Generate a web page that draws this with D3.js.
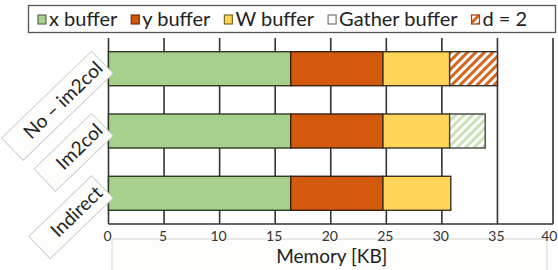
<!DOCTYPE html>
<html><head><meta charset="utf-8">
<script src="https://cdn.jsdelivr.net/npm/d3@7"></script>
<style>body{margin:0;background:#fff}svg{display:block}</style>
</head><body><svg id="c" width="558" height="270"></svg>
<script>
const categories = ["No \u2013 im2col", "Im2col", "Indirect"];
const xBuffer = [16.4, 16.4, 16.4];
const yBuffer = [8.3, 8.3, 8.3];
const wBuffer = [6.0, 6.0, 6.1];
const gatherBuffer = [0, 3.2, 0];
const d2Buffer = [4.3, 0, 0];
const ticks = [0, 5, 10, 15, 20, 25, 30, 35, 40];
const legendLabels = ["x buffer", "y buffer", "W buffer", "Gather buffer", "d = 2"];
const axisTitle = "Memory [KB]";

const svg = d3.select("#c");
const font = "Lato, 'Open Sans', sans-serif";
const defs = svg.append("defs");
function hatch(id, c1, c2) {
  const p = defs.append("pattern").attr("id", id).attr("patternUnits", "userSpaceOnUse")
    .attr("width", 6).attr("height", 6).attr("patternTransform", "rotate(45)");
  p.append("rect").attr("width", 6).attr("height", 6).attr("fill", c2);
  p.append("rect").attr("width", 3).attr("height", 6).attr("fill", c1);
}
hatch("hOrange", "#d8651c", "#ffffff");
hatch("hGreen", "#c9e3b8", "#ffffff");

const series = [
  {key: legendLabels[0], vals: xBuffer, fill: "#a7d08c", stroke: "#2d3a26"},
  {key: legendLabels[1], vals: yBuffer, fill: "#d35a0c", stroke: "#3a2010"},
  {key: legendLabels[2], vals: wBuffer, fill: "#fed558", stroke: "#3a3420"},
  {key: legendLabels[3], vals: gatherBuffer, fill: "url(#hGreen)", stroke: "#444"},
  {key: legendLabels[4], vals: d2Buffer, fill: "url(#hOrange)", stroke: "#333"}
];

const x = d3.scaleLinear().domain([0, 40]).range([108.5, 553]);
const y = d3.scaleBand().domain(categories).range([38, 224]).paddingInner(0.454).paddingOuter(0.22);

// axis title box
svg.append("rect").attr("x", 112).attr("y", 239).attr("width", 435).attr("height", 34)
  .attr("fill", "#fdfdfb").attr("stroke", "#d4d4d4").attr("stroke-width", 1);
svg.append("text").attr("x", (x(0) + x(40)) / 2 + 1).attr("y", 263).attr("text-anchor", "middle")
  .attr("font-family", font).attr("font-size", 19).attr("fill", "#222").text(axisTitle);

// grid lines
svg.append("g").selectAll("line").data(ticks).join("line")
  .attr("x1", d => x(d)).attr("x2", d => x(d)).attr("y1", 38).attr("y2", 224)
  .attr("stroke", "#333").attr("stroke-width", 1.6);
// bottom axis line
svg.append("line").attr("x1", x(0)).attr("x2", x(40)).attr("y1", 224).attr("y2", 224)
  .attr("stroke", "#333").attr("stroke-width", 1.6);

// tick labels
const last = ticks[ticks.length - 1];
svg.append("g").selectAll("text").data(ticks).join("text")
  .attr("x", d => d === last ? 557.5 : x(d) - 1).attr("y", 241)
  .attr("text-anchor", d => d === last ? "end" : "middle")
  .attr("font-family", font).attr("font-size", 14).attr("fill", "#333").text(d => d);

// bars
const bars = svg.append("g");
categories.forEach((c, i) => {
  let acc = 0;
  series.forEach(s => {
    const v = s.vals[i];
    if (v > 0) {
      bars.append("rect").attr("x", x(acc)).attr("y", y(c))
        .attr("width", x(acc + v) - x(acc)).attr("height", y.bandwidth())
        .attr("fill", s.fill).attr("stroke", s.stroke).attr("stroke-width", 1.4);
    }
    acc += v;
  });
});

// category labels, rotated with boxes
categories.forEach(c => {
  const g = svg.append("g").attr("transform", `translate(104,${y(c) + y.bandwidth() / 2 + 1}) rotate(-44)`);
  const t = g.append("text").attr("x", 0).attr("y", 0).attr("text-anchor", "end")
    .attr("font-family", font).attr("font-size", 19).attr("fill", "#222").text(c);
  const len = t.node().getComputedTextLength();
  g.insert("rect", "text").attr("x", -len - 20).attr("y", -22).attr("width", len + 24).attr("height", 31)
    .attr("fill", "#fdfdfc").attr("stroke", "#cfcfcf").attr("stroke-width", 1);
});

// legend
const lg = svg.append("g");
lg.append("rect").attr("x", 28.5).attr("y", 5.5).attr("width", 527).attr("height", 27)
  .attr("fill", "#fff").attr("stroke", "#555").attr("stroke-width", 1.3);
let lx = 38;
const legendFills = ["#a7d08c", "#d35a0c", "#fed558", "#ffffff", "url(#hOrange)"];
const legendStrokes = ["#5a6a50", "#6a3010", "#7a6a20", "#777", "#a04010"];
legendLabels.forEach((lab, i) => {
  lg.append("rect").attr("x", lx).attr("y", 15).attr("width", 8).attr("height", 9)
    .attr("fill", legendFills[i]).attr("stroke", legendStrokes[i]).attr("stroke-width", 1.2);
  const t = lg.append("text").attr("x", lx + 11).attr("y", 26).attr("font-family", font)
    .attr("font-size", 20).attr("fill", "#222").text(lab);
  lx += 11 + t.node().getComputedTextLength() + 14;
});
</script></body></html>
